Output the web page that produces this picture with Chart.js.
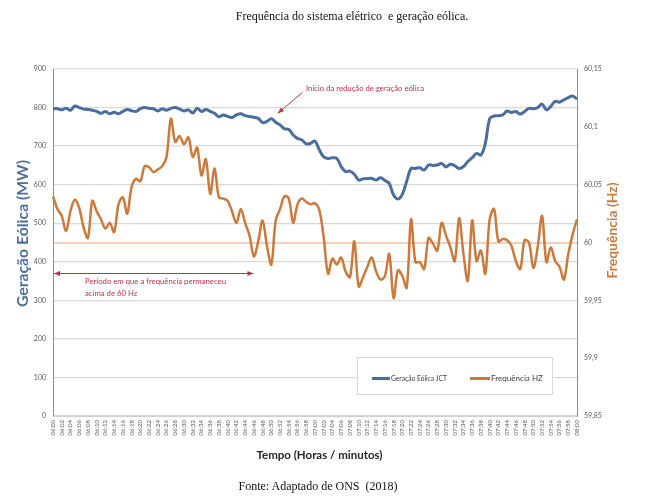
<!DOCTYPE html>
<html><head><meta charset="utf-8">
<script src="https://cdn.jsdelivr.net/npm/chart.js@4.4.1/dist/chart.umd.min.js"></script>
<style>
html,body{margin:0;padding:0;background:#fff;}
#wrap{position:relative;width:655px;height:500px;overflow:hidden;background:#fff;}
canvas{position:absolute;left:0;top:0;}
.cap{position:absolute;font-family:'Liberation Serif','Times New Roman',serif;font-size:12px;color:#111;white-space:pre;line-height:14px;}
</style></head><body>
<div id="wrap">
<canvas id="c" width="655" height="500"></canvas>
<div class="cap" style="left:152px;width:400px;top:9px;text-align:center">Frequência do sistema elétrico  e geração eólica.</div>
<div class="cap" style="left:118px;width:400px;top:479px;text-align:center">Fonte: Adaptado de ONS  (2018)</div>
</div>
<script>
// ---- categories: one per minute, 06:00 .. 08:00 ----
const categories = [];
for (let m = 0; m <= 120; m++) {
  const h = 6 + Math.floor(m / 60), mm = m % 60;
  categories.push(String(h).padStart(2, '0') + ':' + String(mm).padStart(2, '0'));
}

// ---- series: wind generation (MW) ----
const windMW = [
  797, 797, 794, 798, 793, 804, 800, 796, 795, 793,
  790, 785, 790, 784, 788, 784, 790, 795, 792, 790,
  797, 800, 798, 797, 791, 797, 793, 798, 800, 796,
  791, 794, 786, 798, 790, 795, 790, 785, 776, 781,
  777, 774, 781, 784, 779, 777, 775, 772, 761, 764,
  771, 762, 755, 745, 743, 729, 720, 716, 706, 707,
  713, 690, 672, 668, 670, 668, 647, 634, 635, 627,
  612, 615, 616, 616, 612, 618, 611, 603, 573, 563,
  575, 609, 642, 642, 644, 638, 651, 650, 651, 655,
  646, 653, 649, 642, 647, 660, 670, 681, 677, 707,
  771, 778, 779, 781, 791, 787, 790, 783, 790, 798,
  797, 800, 809, 794, 803, 816, 814, 820, 826, 830,
  822
];

// ---- series: system frequency (Hz) ----
const freqHz = [
  60.040, 60.029, 60.023, 60.010, 60.027, 60.037, 60.030, 60.013, 60.004, 60.036,
  60.027, 60.020, 60.012, 60.017, 60.009, 60.033, 60.039, 60.025, 60.048, 60.055,
  60.053, 60.066, 60.065, 60.061, 60.063, 60.066, 60.074, 60.107, 60.087, 60.092,
  60.085, 60.091, 60.074, 60.082, 60.058, 60.072, 60.042, 60.064, 60.039, 60.038,
  60.036, 60.027, 60.017, 60.029, 60.017, 60.006, 59.988, 60.001, 60.019, 59.997,
  59.981, 60.019, 60.029, 60.040, 60.038, 60.017, 60.033, 60.038, 60.035, 60.033,
  60.034, 60.028, 60.004, 59.973, 59.986, 59.981, 59.987, 59.975, 59.970, 60.001,
  59.962, 59.970, 59.979, 59.987, 59.975, 59.968, 59.971, 59.990, 59.952, 59.976,
  59.971, 59.961, 60.020, 59.983, 59.983, 59.977, 60.004, 59.999, 59.993, 60.017,
  60.006, 59.996, 59.984, 60.021, 59.990, 59.967, 60.019, 59.984, 59.993, 59.973,
  60.020, 60.029, 60.001, 60.003, 60.002, 59.997, 59.984, 59.977, 60.002, 60.000,
  59.978, 59.996, 60.023, 59.983, 59.996, 59.984, 59.979, 59.968, 59.990, 60.007,
  60.020
];

// ---- axis ticks ----
const windTicks = [0, 100, 200, 300, 400, 500, 600, 700, 800, 900];
const freqTicks = [59.85, 59.9, 59.95, 60, 60.05, 60.1, 60.15];
const refFreq = 60;

const SANS = "Lato, 'Open Sans', sans-serif";
const BLUE = '#4a6d9b';
const ORANGE = '#cb7a3c';
const RED = '#c0304a';

function fmtHz(v) {
  let s = v.toFixed(2);
  s = s.replace(/0+$/, '').replace(/\.$/, '');
  return s.replace('.', ',');
}

function fitFont(ctx, text, targetW, weight, base) {
  ctx.font = weight + ' ' + base + 'px ' + SANS;
  const w = ctx.measureText(text).width;
  const size = base * targetW / w;
  ctx.font = weight + ' ' + size.toFixed(2) + 'px ' + SANS;
  return size;
}

function arrowHead(ctx, x, y, ang, len, half) {
  ctx.beginPath();
  ctx.moveTo(x, y);
  ctx.lineTo(x - len * Math.cos(ang) + half * Math.sin(ang), y - len * Math.sin(ang) - half * Math.cos(ang));
  ctx.lineTo(x - len * Math.cos(ang) - half * Math.sin(ang), y - len * Math.sin(ang) + half * Math.cos(ang));
  ctx.closePath();
  ctx.fill();
}

const deco = {
  id: 'deco',
  beforeDatasetsDraw(chart) {
    const {ctx, chartArea: a, scales: {y1}} = chart;
    const yy = Math.round(y1.getPixelForValue(refFreq));
    ctx.save();
    ctx.strokeStyle = '#e3a47a';
    ctx.lineWidth = 1.2;
    ctx.beginPath(); ctx.moveTo(a.left, yy); ctx.lineTo(a.right, yy); ctx.stroke();
    ctx.restore();
  },
  afterDraw(chart) {
    const {ctx, chartArea: a, scales: {x, y, y1}} = chart;
    ctx.save();

    // axis titles
    ctx.textAlign = 'center'; ctx.textBaseline = 'middle';
    ctx.save();
    ctx.translate(23, 233.5); ctx.rotate(-Math.PI / 2);
    ctx.fillStyle = '#4f709c';
    fitFont(ctx, 'Geração Eólica (MW)', 147, 'bold', 15);
    ctx.fillText('Geração Eólica (MW)', 0, 0);
    ctx.restore();

    ctx.save();
    ctx.translate(613, 230.5); ctx.rotate(-Math.PI / 2);
    ctx.fillStyle = '#c97b3d';
    fitFont(ctx, 'Frequência (Hz)', 96, 'bold', 14);
    ctx.fillText('Frequência (Hz)', 0, 0);
    ctx.restore();

    ctx.fillStyle = '#262626';
    fitFont(ctx, 'Tempo (Horas / minutos)', 126, 'bold', 12);
    ctx.fillText('Tempo (Horas / minutos)', 319.5, 455);

    // annotation 1: start of wind reduction
    ctx.strokeStyle = '#b5344a'; ctx.fillStyle = '#b5344a'; ctx.lineWidth = 1;
    const ax0 = x.getPixelForValue(57.1), ay0 = y.getPixelForValue(839);
    const ax1 = x.getPixelForValue(51.5), ay1 = y.getPixelForValue(785);
    ctx.beginPath(); ctx.moveTo(ax0, ay0); ctx.lineTo(ax1, ay1); ctx.stroke();
    arrowHead(ctx, ax1, ay1, Math.atan2(ay1 - ay0, ax1 - ax0), 6, 2.5);
    ctx.fillStyle = RED; ctx.textAlign = 'left';
    fitFont(ctx, 'Início da redução de geração eólica', 118, 'normal', 8);
    ctx.fillText('Início da redução de geração eólica', 306, y.getPixelForValue(850));

    // annotation 2: period above 60 Hz
    const by = Math.round(y.getPixelForValue(370)) + 0.5;
    const bx0 = a.left + 1, bx1 = x.getPixelForValue(45.9);
    ctx.fillStyle = '#b5344a';
    ctx.beginPath(); ctx.moveTo(bx0, by); ctx.lineTo(bx1, by); ctx.stroke();
    arrowHead(ctx, bx0, by, Math.PI, 6, 2.5);
    arrowHead(ctx, bx1, by, 0, 6, 2.5);
    ctx.fillStyle = RED;
    fitFont(ctx, 'Período em que a frequência permaneceu', 141, 'normal', 8);
    ctx.fillText('Período em que a frequência permaneceu', 85, 281.5);
    fitFont(ctx, 'Período em que a frequência permaneceu', 141, 'normal', 8);
    ctx.fillText('acima de 60 Hz', 85, 293.5);

    // legend
    const lx = 357, ly = 357, lw = 195, lh = 37;
    ctx.fillStyle = '#ffffff'; ctx.strokeStyle = '#d9d9d9'; ctx.lineWidth = 1;
    ctx.fillRect(lx, ly, lw, lh); ctx.strokeRect(lx + 0.5, ly + 0.5, lw, lh);
    const ds = chart.data.datasets;
    const items = [{x0: 372, x1: 390, tx: 391, tw: 56}, {x0: 470, x1: 490, tx: 491, tw: 52}];
    items.forEach((it, i) => {
      ctx.strokeStyle = ds[i].borderColor; ctx.lineWidth = 3;
      ctx.beginPath(); ctx.moveTo(it.x0, 378.5); ctx.lineTo(it.x1, 378.5); ctx.stroke();
      ctx.fillStyle = '#404040'; ctx.textAlign = 'left'; ctx.textBaseline = 'middle';
      fitFont(ctx, ds[i].label, it.tw, 'normal', 8);
      ctx.fillText(ds[i].label, it.tx, 378.5);
    });
    ctx.restore();
  }
};

new Chart(document.getElementById('c'), {
  type: 'line',
  data: {
    labels: categories,
    datasets: [
      {label: 'Geração Eólica JCT', data: windMW, yAxisID: 'y', borderColor: BLUE, borderWidth: 3,
       pointRadius: 0, tension: 0.4, fill: false},
      {label: 'Frequência HZ', data: freqHz, yAxisID: 'y1', borderColor: ORANGE, borderWidth: 2.5,
       pointRadius: 0, tension: 0.35, fill: false}
    ]
  },
  options: {
    responsive: false,
    animation: false,
    devicePixelRatio: 1,
    layout: {padding: {left: 8, right: 8, top: 69, bottom: 28}},
    plugins: {legend: {display: false}, tooltip: {enabled: false}, title: {display: false}},
    scales: {
      x: {
        type: 'category', offset: false,
        grid: {display: false, drawTicks: false},
        border: {display: true, color: '#d0d0d0'},
        ticks: {autoSkip: false, maxRotation: 90, minRotation: 90, padding: 4, color: '#595959',
                font: {family: SANS, size: 6},
                callback: (v, i) => (i % 2 === 0 ? categories[i] : '')},
        afterFit(s) { s.height = 56; }
      },
      y: {
        position: 'left', min: 0, max: 900,
        afterBuildTicks(s) { s.ticks = windTicks.map(v => ({value: v})); },
        ticks: {padding: 7, color: '#595959', font: {family: SANS, size: 7}},
        grid: {color: '#d9d9d9', lineWidth: 1.3, drawTicks: false},
        border: {color: '#8c8c8c', width: 1},
        afterFit(s) { s.width = 45; }
      },
      y1: {
        position: 'right', min: 59.85, max: 60.15,
        afterBuildTicks(s) { s.ticks = freqTicks.map(v => ({value: v})); },
        ticks: {padding: 7, color: '#595959', font: {family: SANS, size: 7}, callback: v => fmtHz(v)},
        grid: {display: false, drawTicks: false},
        border: {color: '#8c8c8c', width: 1},
        afterFit(s) { s.width = 70; }
      }
    }
  },
  plugins: [deco]
});
</script>
</body></html>
